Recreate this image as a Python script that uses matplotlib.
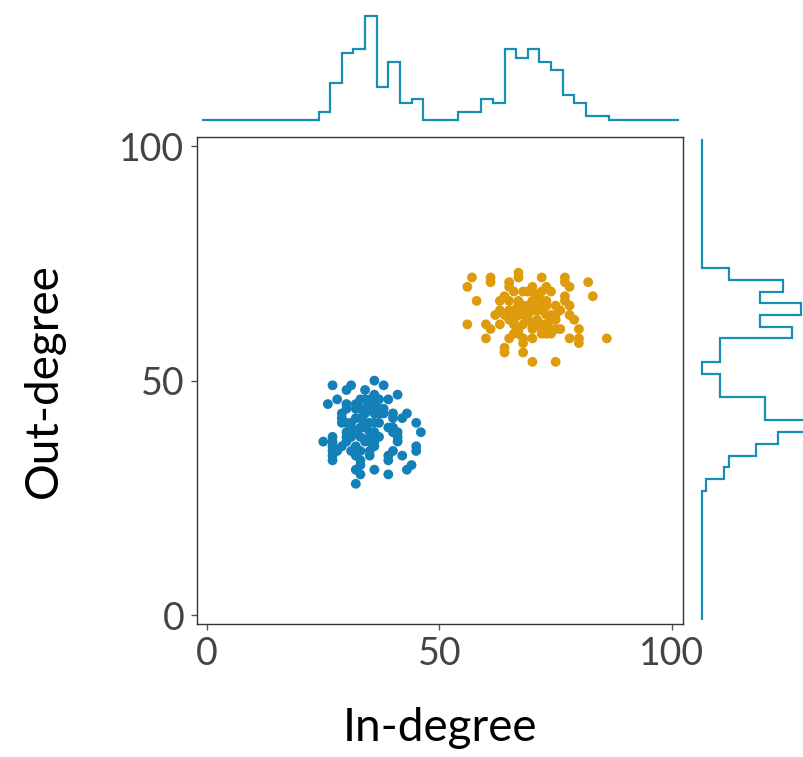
import matplotlib.pyplot as plt
import numpy as np

plt.rcParams['font.family'] = ['Lato', 'DejaVu Sans']

# scatter data: (in-degree, out-degree) per node
blue_x = [27, 31, 36, 38, 30, 34, 26, 28, 30, 41,
          39, 36, 33, 29, 43, 40, 45, 46, 29, 25,
          27, 27, 27, 27, 33, 32, 36, 39, 32, 43,
          44, 45, 45, 42, 40, 39, 41, 41, 27, 27,
          33, 33, 35, 35, 30, 31, 30, 30, 29, 32,
          32, 31, 34, 35, 35, 35, 35, 35, 33, 30,
          35, 36, 37, 38, 36, 37, 38, 40, 42, 37,
          39, 40, 35, 36, 36, 40, 41, 39, 36, 34,
          33, 34, 34, 33, 32, 33, 34, 32, 31, 32,
          29, 33, 36, 37, 30, 31, 32, 37, 34, 28]
blue_y = [49, 49, 50, 49, 48, 48, 45, 46, 45, 47,
          46, 47, 46, 43, 43, 43, 41, 39, 41, 37,
          38, 37, 34, 33, 33, 31, 31, 30, 28, 31,
          32, 36, 35, 34, 35, 33, 39, 37, 36, 35,
          32, 30, 35, 34, 39, 38, 37, 38, 42, 44,
          42, 41, 43, 44, 46, 38, 37, 41, 42, 41,
          45, 45, 44, 44, 43, 43, 43, 42, 42, 41,
          40, 40, 39, 39, 37, 39, 38, 34, 41, 44,
          44, 41, 40, 40, 39, 38, 37, 36, 35, 34,
          36, 35, 36, 38, 44, 40, 45, 46, 46, 35]

orange_x = [57, 56, 61, 61, 67, 67, 72, 77, 77, 82,
            65, 65, 70, 68, 73, 74, 78, 83, 58, 63,
            64, 65, 67, 77, 77, 78, 71, 72, 56, 60,
            61, 63, 60, 65, 64, 64, 68, 70, 75, 78,
            79, 80, 80, 80, 78, 86, 76, 75, 74, 73,
            74, 67, 67, 68, 68, 70, 66, 68, 68, 68,
            69, 70, 71, 71, 72, 73, 74, 74, 75, 73,
            72, 71, 70, 68, 69, 67, 66, 65, 70, 71,
            70, 69, 66, 72, 75, 76, 66, 64, 70, 72,
            75, 69, 67, 65, 73, 62, 72, 63, 66, 73]
orange_y = [72, 70, 72, 71, 73, 72, 72, 72, 71, 71,
            71, 70, 70, 69, 70, 69, 70, 68, 67, 67,
            68, 67, 67, 68, 67, 66, 68, 67, 62, 62,
            61, 62, 59, 59, 57, 56, 56, 54, 54, 64,
            63, 61, 59, 58, 59, 59, 61, 61, 61, 60,
            60, 61, 60, 59, 58, 59, 62, 66, 65, 64,
            64, 65, 65, 66, 65, 64, 64, 63, 64, 62,
            62, 63, 62, 62, 63, 64, 65, 65, 67, 67,
            69, 69, 69, 69, 66, 65, 63, 64, 61, 60,
            63, 66, 66, 63, 67, 64, 61, 65, 60, 66]

# marginal histogram counts, bins of width 2.5 starting at -1
bin_edges = np.arange(-1, 102, 2.5)
in_counts = [0] * 10 + [2, 9, 16, 17, 25, 8, 14, 4, 5] + [0, 0, 0] + \
            [2, 2, 5, 4, 17, 15, 17, 14, 12, 6, 4, 1, 1] + [0] * 6
out_counts = [0] * 11 + [1, 5, 6, 12, 17, 23, 14, 14, 4, 4, 0] + \
             [4, 4, 20, 13, 22, 13, 18, 6] + [0] * 11

blue = "#1380b8"
orange = "#de9b0c"
hist_color = "#168fb3"

fig = plt.figure(figsize=(8.04, 7.57), dpi=100)
ax = fig.add_axes([0.2448, 0.1757, 0.6047, 0.643])
ax_top = fig.add_axes([0.2448, 0.8415, 0.6047, 0.1443], sharex=ax)
ax_right = fig.add_axes([0.8731, 0.1757, 0.1352, 0.643], sharey=ax)

ax.scatter(blue_x, blue_y, s=50, color=blue, edgecolors='none', zorder=3)
ax.scatter(orange_x, orange_y, s=50, color=orange, edgecolors='none', zorder=3)

ax.set_xlim(-2.2, 102.4)
ax.set_ylim(-1.9, 101.9)
ax.set_xticks([0, 50, 100])
ax.set_yticks([0, 50, 100])
for sp in ax.spines.values():
    sp.set_color("#333333")
    sp.set_linewidth(1.0)
ax.tick_params(direction='out', length=4, width=1, color="#555555",
               labelsize=27, labelcolor="#444444", pad=5)
ax.set_xlabel("In-degree", fontsize=33, labelpad=25, color="black")
ax.set_ylabel("Out-degree", fontsize=33, labelpad=39, color="black")

ax_top.stairs(in_counts, bin_edges, color=hist_color, linewidth=1.6, clip_on=False)
ax_top.set_ylim(0, 26.25)
ax_top.axis('off')

ax_right.stairs(out_counts, bin_edges, orientation='horizontal',
                color=hist_color, linewidth=1.6, clip_on=False)
ax_right.set_xlim(0, 24.15)
ax_right.axis('off')

fig.savefig("out.png", dpi=100)
